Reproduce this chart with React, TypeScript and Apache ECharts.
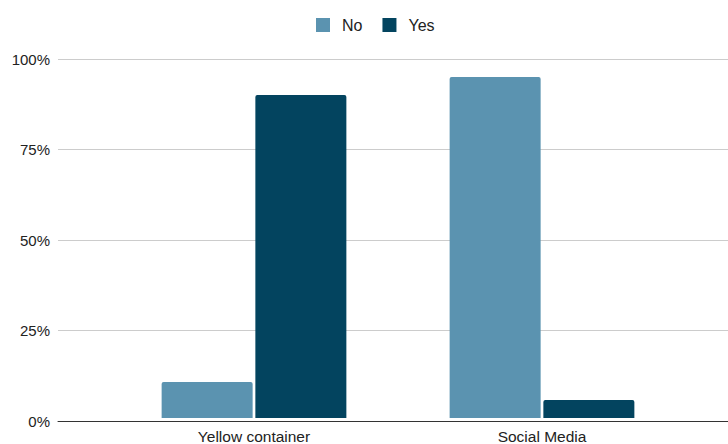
import React, { useEffect, useRef } from "react";
import * as echarts from "echarts";

const categories = ["Yellow container", "Social Media"];
const noValues = [10, 95];
const yesValues = [90, 5];
const seriesNames = ["No", "Yes"];
const colors = ["#5b93b0", "#03445f"];

export default function App() {
  const ref = useRef<HTMLDivElement>(null);
  useEffect(() => {
    if (!ref.current) return;
    const chart = echarts.init(ref.current, null, { renderer: "svg" });
    const font = "'Liberation Sans', Arial, sans-serif";
    chart.setOption({
      animation: false,
      textStyle: { fontFamily: font },
      legend: {
        top: 12,
        left: 311,
        itemWidth: 14,
        itemHeight: 14,
        itemGap: 20,
        icon: "rect",
        textStyle: { fontSize: 16, color: "#222", fontFamily: font, padding: [0, 0, 0, 7] },
        data: seriesNames,
      },
      grid: [
        { left: 58, right: 0, top: 59, bottom: 23, containLabel: false },
        { left: 110, right: 42, top: 59, bottom: 23, containLabel: false },
      ],
      xAxis: [
        {
          type: "category",
          gridIndex: 0,
          data: [""],
          axisLine: { show: true, lineStyle: { color: "#333", width: 1 } },
          axisTick: { show: false },
          axisLabel: { show: false },
        },
        {
          type: "category",
          gridIndex: 1,
          data: categories,
          axisLine: { show: false },
          axisTick: { show: false },
          axisLabel: { color: "#222", fontSize: 15.5, margin: 10, fontFamily: font },
        },
      ],
      yAxis: [
        {
          type: "value",
          gridIndex: 0,
          min: 0,
          max: 100,
          interval: 25,
          axisLine: { show: false },
          axisTick: { show: false },
          axisLabel: { formatter: "{value}%", color: "#222", fontSize: 15, margin: 8, fontFamily: font },
          splitLine: { lineStyle: { color: "#cccccc", width: 1 } },
        },
        {
          type: "value",
          gridIndex: 1,
          min: 0,
          max: 100,
          interval: 25,
          show: false,
          splitLine: { show: false },
        },
      ],
      series: [
        {
          name: seriesNames[0],
          type: "bar",
          xAxisIndex: 1,
          yAxisIndex: 1,
          data: noValues,
          barWidth: 91,
          barGap: "3%",
          itemStyle: { color: colors[0], borderRadius: [2, 2, 0, 0] },
        },
        {
          name: seriesNames[1],
          type: "bar",
          xAxisIndex: 1,
          yAxisIndex: 1,
          data: yesValues,
          barWidth: 91,
          barGap: "3%",
          itemStyle: { color: colors[1], borderRadius: [2, 2, 0, 0] },
        },
      ],
    });
    return () => chart.dispose();
  }, []);
  return <div ref={ref} style={{ width: 728, height: 444, position: "absolute", left: 0, top: 0 }} />;
}
